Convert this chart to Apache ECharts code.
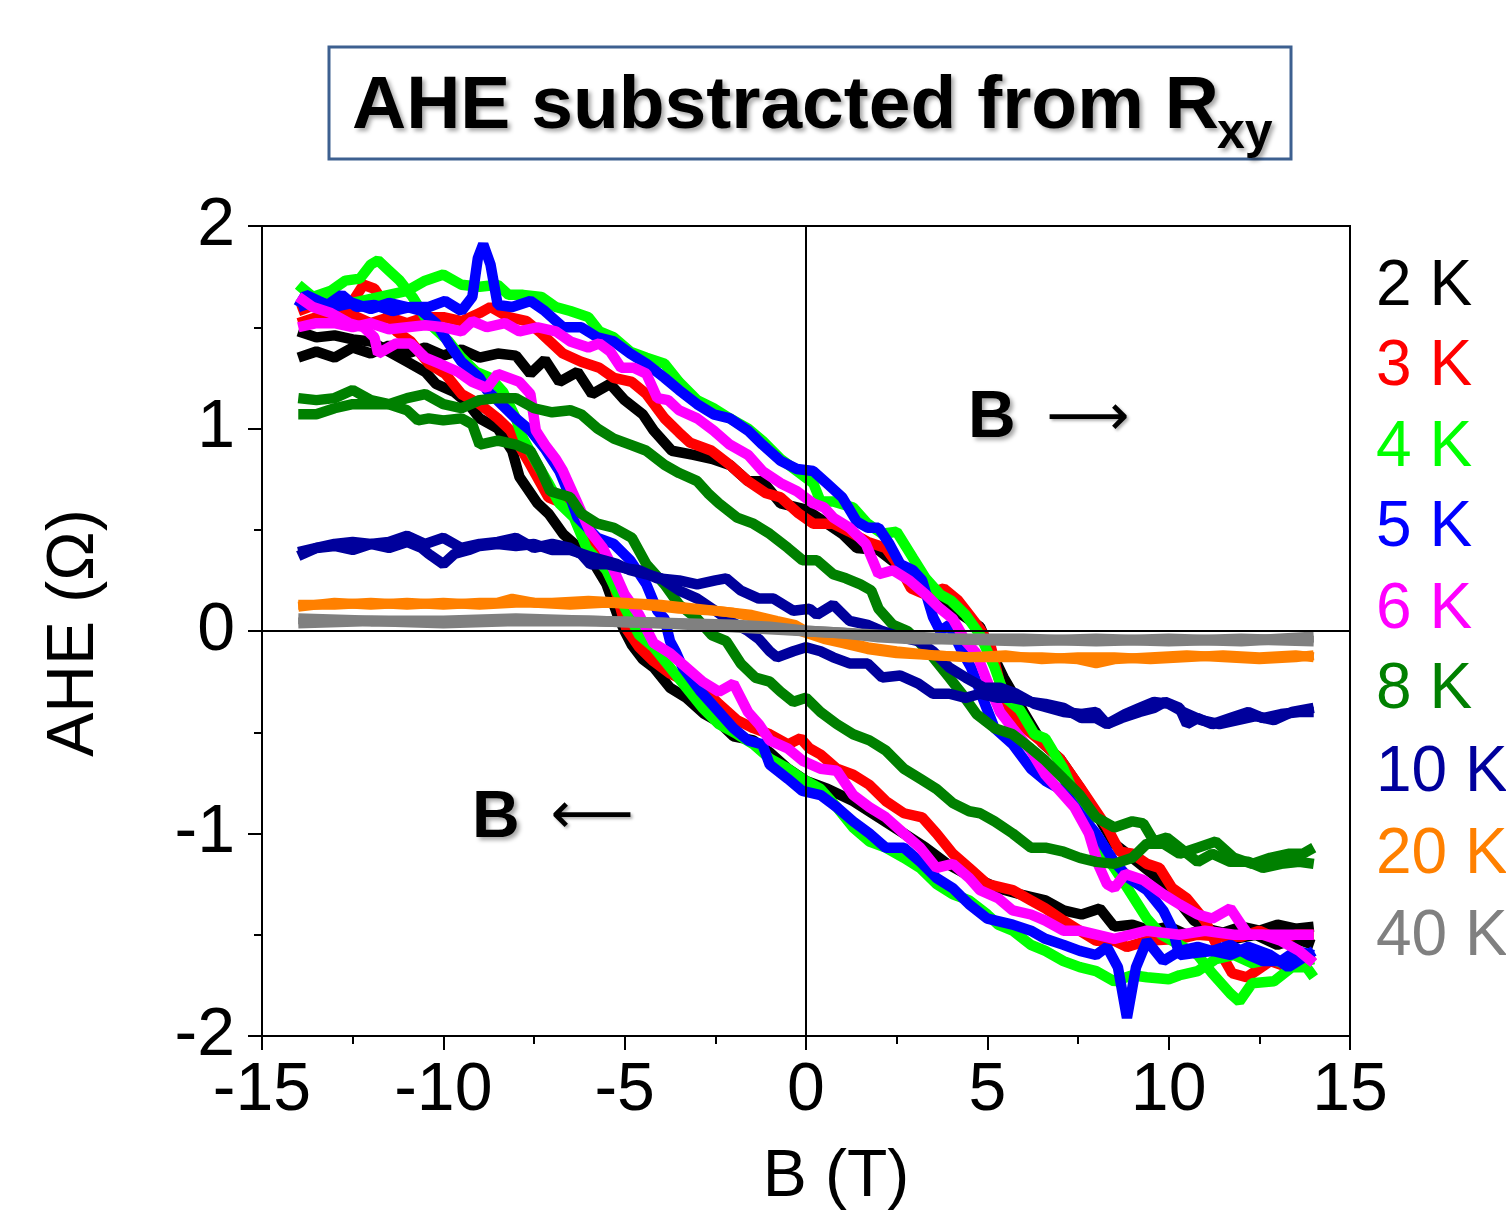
<!DOCTYPE html>
<html>
<head>
<meta charset="utf-8">
<script src="https://cdn.jsdelivr.net/npm/echarts@6.0.0/dist/echarts.min.js"></script>
<style>
html,body{margin:0;padding:0;background:#fff;}
#chart{width:1506px;height:1215px;}
</style>
</head>
<body>
<div id="chart"></div>
<script>
// ---- Data (B in T, AHE in Ohm) ----
var temps = ['2 K','3 K','4 K','5 K','6 K','8 K','10 K','20 K','40 K'];
var colors = ['#000000','#ff0000','#00ff00','#0000ff','#ff00ff','#008000','#00009c','#ff8000','#808080'];
var lineWidths = [10.5,10.5,10.5,10.5,10.5,10.5,10.5,10,11];
var xTicks = [-15,-10,-5,0,5,10,15];
var yTicks = [-2,-1,0,1,2];

var k2Up = [[-14,1.35],[-13.5,1.38],[-13,1.35],[-12.5,1.40],[-12,1.37],[-11.5,1.41],[-11,1.37],[-10.5,1.40],[-10,1.36],[-9.5,1.39],[-9,1.35],[-8.5,1.37],[-8,1.36],[-7.6,1.27],[-7.2,1.34],[-6.8,1.23],[-6.3,1.28],[-5.9,1.17],[-5.4,1.22],[-5,1.14],[-4.5,1.07],[-4.2,0.99],[-3.7,0.89],[-3.1,0.87],[-2.6,0.85],[-2.1,0.82],[-1.6,0.74],[-1.2,0.74],[-0.7,0.63],[0,0.60],[0.5,0.54],[1,0.48],[1.4,0.41],[2,0.40],[2.5,0.33],[3,0.27],[3.7,0.15],[4.3,0.08],[4.8,0.02],[5.1,-0.10],[5.45,-0.23],[6,-0.40],[6.5,-0.55],[7,-0.63],[7.5,-0.76],[8,-0.90],[8.5,-1.05],[9,-1.12],[9.7,-1.22],[10.2,-1.32],[10.7,-1.43],[11.2,-1.48],[11.8,-1.52],[12.4,-1.50],[13,-1.55],[13.5,-1.52],[14,-1.55]];
var k2Dn = [[-14,1.48],[-13.5,1.45],[-13,1.46],[-12.5,1.44],[-12,1.43],[-11.5,1.38],[-11,1.33],[-10.5,1.28],[-10.2,1.22],[-9.7,1.18],[-9.3,1.12],[-9,1.05],[-8.5,1.00],[-8.1,0.89],[-7.9,0.76],[-7.4,0.63],[-7.1,0.58],[-6.7,0.48],[-6.2,0.40],[-5.8,0.32],[-5.5,0.23],[-5.2,0.08],[-5.0,0.0],[-4.8,-0.07],[-4.5,-0.14],[-4.2,-0.18],[-3.75,-0.28],[-3.3,-0.33],[-2.8,-0.41],[-2.4,-0.45],[-2,-0.52],[-1.45,-0.54],[-1,-0.60],[-0.5,-0.68],[0,-0.74],[0.6,-0.78],[1.3,-0.84],[2,-0.92],[2.7,-1.0],[3.3,-1.07],[3.9,-1.15],[4.4,-1.20],[4.8,-1.23],[5.3,-1.27],[5.9,-1.30],[6.6,-1.33],[7.1,-1.38],[7.6,-1.40],[8.1,-1.37],[8.5,-1.46],[9,-1.45],[9.5,-1.48],[10,-1.46],[10.5,-1.50],[11,-1.47],[11.5,-1.49],[12,-1.46],[12.5,-1.48],[13,-1.45],[13.5,-1.47],[14,-1.46]];

var k3Up = [[-14,1.52],[-13.5,1.55],[-13,1.53],[-12.5,1.56],[-12,1.52],[-11.5,1.55],[-11,1.52],[-10.5,1.55],[-10,1.55],[-9.5,1.53],[-9,1.57],[-8.7,1.60],[-8.2,1.55],[-7.7,1.53],[-7.3,1.47],[-6.7,1.37],[-6.2,1.33],[-5.7,1.30],[-5.3,1.25],[-4.8,1.23],[-4.4,1.17],[-3.9,1.05],[-3.5,0.98],[-3.2,0.93],[-2.6,0.89],[-2.1,0.82],[-1.6,0.74],[-1.1,0.68],[-0.7,0.66],[-0.2,0.58],[0.2,0.53],[0.75,0.53],[1.2,0.49],[1.7,0.44],[2.2,0.41],[2.6,0.31],[2.9,0.21],[3.3,0.18],[3.8,0.21],[4.2,0.15],[4.5,0.08],[4.8,0.01],[5.1,-0.08],[5.35,-0.26],[5.7,-0.43],[6.45,-0.54],[7.0,-0.63],[7.55,-0.77],[8.3,-0.97],[8.65,-1.09],[9.0,-1.10],[9.4,-1.15],[9.75,-1.17],[10.1,-1.27],[10.5,-1.32],[11,-1.43],[11.4,-1.58],[11.75,-1.69],[12.15,-1.71],[12.4,-1.68],[12.8,-1.63],[13.3,-1.66],[13.6,-1.65],[14,-1.60]];
var k3Dn = [[-14,1.58],[-13.7,1.60],[-13.4,1.66],[-13,1.58],[-12.6,1.60],[-12.2,1.71],[-11.9,1.69],[-11.6,1.61],[-11.3,1.48],[-10.9,1.43],[-10.4,1.32],[-9.95,1.27],[-9.5,1.17],[-9,1.12],[-8.5,1.05],[-8.15,0.99],[-7.6,0.82],[-7.1,0.66],[-6.7,0.63],[-6.2,0.53],[-5.75,0.39],[-5.3,0.23],[-4.95,0.01],[-4.6,-0.08],[-4.2,-0.15],[-3.75,-0.21],[-3.3,-0.25],[-2.85,-0.28],[-2.4,-0.36],[-1.9,-0.44],[-1.45,-0.48],[-1.0,-0.51],[-0.5,-0.56],[-0.15,-0.53],[0.1,-0.58],[0.4,-0.61],[0.85,-0.68],[1.3,-0.71],[1.75,-0.76],[2.2,-0.84],[2.7,-0.90],[3.2,-0.92],[3.6,-1.0],[4.05,-1.10],[4.5,-1.17],[5.0,-1.25],[5.7,-1.28],[6.2,-1.33],[6.6,-1.37],[7.1,-1.43],[7.55,-1.48],[8.0,-1.53],[8.5,-1.53],[8.85,-1.56],[9.4,-1.53],[10.3,-1.52],[10.8,-1.50],[11.5,-1.51],[12,-1.51],[12.5,-1.48],[13,-1.52],[13.5,-1.50],[14,-1.50]];

var k4Up = [[-14,1.63],[-13.5,1.60],[-13,1.64],[-12.5,1.62],[-12,1.64],[-11.5,1.66],[-11,1.68],[-10.5,1.73],[-10,1.76],[-9.5,1.71],[-9,1.70],[-8.5,1.71],[-8.2,1.66],[-7.8,1.66],[-7.3,1.65],[-6.9,1.60],[-6.5,1.58],[-6,1.55],[-5.7,1.48],[-5.3,1.45],[-4.85,1.38],[-4.4,1.35],[-3.9,1.32],[-3.5,1.23],[-3.0,1.14],[-2.55,1.10],[-2.1,1.05],[-1.6,1.0],[-1.2,0.94],[-0.7,0.85],[-0.25,0.79],[0.2,0.73],[0.4,0.64],[0.75,0.64],[1.3,0.61],[1.7,0.53],[2.1,0.48],[2.5,0.49],[2.95,0.36],[3.3,0.26],[3.7,0.18],[4.0,0.15],[4.4,0.08],[4.8,-0.02],[5.2,-0.18],[5.5,-0.33],[5.9,-0.39],[6.3,-0.51],[6.6,-0.53],[7.1,-0.68],[7.55,-0.87],[8.0,-1.04],[8.5,-1.17],[8.9,-1.28],[9.4,-1.42],[9.8,-1.50],[10.3,-1.55],[10.8,-1.60],[11.2,-1.69],[11.7,-1.79],[11.95,-1.83],[12.3,-1.74],[12.9,-1.73],[13.4,-1.66],[13.8,-1.66],[14,-1.71]];
var k4Dn = [[-14,1.71],[-13.6,1.65],[-13.1,1.68],[-12.7,1.73],[-12.3,1.74],[-12,1.81],[-11.8,1.83],[-11.5,1.78],[-11.2,1.73],[-10.85,1.65],[-10.4,1.52],[-9.85,1.43],[-9.5,1.35],[-9.1,1.28],[-8.7,1.25],[-8.35,1.18],[-8.0,1.05],[-7.8,0.95],[-7.4,0.82],[-7.1,0.73],[-6.8,0.63],[-6.4,0.56],[-6.05,0.41],[-5.5,0.30],[-5.1,0.15],[-4.6,-0.02],[-4.2,-0.08],[-3.75,-0.18],[-3.3,-0.28],[-2.85,-0.38],[-2.4,-0.46],[-1.9,-0.51],[-1.45,-0.56],[-1.0,-0.63],[-0.5,-0.68],[-0.1,-0.73],[0.4,-0.78],[0.85,-0.87],[1.3,-0.97],[1.75,-1.04],[2.2,-1.07],[2.7,-1.12],[3.15,-1.17],[3.6,-1.25],[4.05,-1.30],[4.5,-1.33],[5.0,-1.40],[5.3,-1.45],[5.7,-1.48],[6.2,-1.55],[6.6,-1.58],[7.1,-1.63],[7.55,-1.66],[8.0,-1.68],[8.5,-1.73],[9.0,-1.70],[9.4,-1.71],[10,-1.72],[10.3,-1.70],[10.8,-1.68],[11.3,-1.62],[11.8,-1.60],[12.3,-1.64],[12.8,-1.62],[13.3,-1.65],[14,-1.62]];

var k5Up = [[-14,1.60],[-13.8,1.66],[-13.2,1.61],[-12.8,1.66],[-12.4,1.60],[-11.9,1.61],[-11.4,1.58],[-10.9,1.60],[-10.4,1.60],[-9.95,1.63],[-9.5,1.58],[-9.2,1.65],[-9.05,1.84],[-8.9,1.91],[-8.7,1.81],[-8.5,1.61],[-8.1,1.60],[-7.6,1.63],[-7.2,1.58],[-6.7,1.50],[-6.2,1.50],[-5.75,1.45],[-5.3,1.43],[-4.85,1.37],[-4.4,1.32],[-3.9,1.25],[-3.5,1.19],[-3.0,1.12],[-2.55,1.07],[-2.1,1.05],[-1.6,0.99],[-1.2,0.92],[-0.7,0.84],[-0.25,0.80],[0.2,0.79],[0.57,0.73],[1.0,0.66],[1.4,0.54],[1.7,0.51],[2.0,0.51],[2.3,0.43],[2.6,0.33],[2.95,0.30],[3.2,0.25],[3.5,0.07],[3.7,0.0],[3.95,0.03],[4.3,-0.10],[4.55,-0.18],[4.8,-0.30],[5.2,-0.48],[5.7,-0.56],[6.2,-0.68],[6.6,-0.74],[7.1,-0.79],[7.55,-0.90],[8.0,-1.0],[8.5,-1.14],[8.9,-1.22],[9.4,-1.28],[9.85,-1.38],[10.1,-1.47],[10.3,-1.60],[10.7,-1.59],[11.2,-1.58],[11.7,-1.55],[12.2,-1.60],[12.6,-1.63],[13.1,-1.63],[13.5,-1.58],[14,-1.60]];
var k5Dn = [[-14,1.60],[-13.5,1.63],[-13,1.60],[-12.5,1.62],[-12,1.59],[-11.5,1.62],[-11,1.60],[-10.6,1.58],[-10.2,1.52],[-9.85,1.42],[-9.5,1.33],[-9,1.25],[-8.8,1.19],[-8.4,1.12],[-8,1.05],[-7.6,0.99],[-7.2,0.90],[-6.8,0.79],[-6.5,0.66],[-6.3,0.56],[-5.75,0.46],[-5.3,0.43],[-4.85,0.35],[-4.4,0.23],[-4.1,0.10],[-3.9,0.06],[-3.75,-0.05],[-3.6,-0.10],[-3.4,-0.18],[-2.9,-0.30],[-2.4,-0.40],[-2.0,-0.48],[-1.6,-0.54],[-1.2,-0.56],[-1.0,-0.66],[-0.5,-0.73],[-0.1,-0.79],[0.4,-0.81],[0.85,-0.87],[1.3,-0.94],[1.75,-1.0],[2.2,-1.07],[2.7,-1.07],[3.15,-1.14],[3.6,-1.22],[4.05,-1.27],[4.5,-1.35],[5.0,-1.42],[5.7,-1.45],[6.2,-1.48],[6.6,-1.52],[7.1,-1.55],[7.55,-1.58],[8.0,-1.60],[8.3,-1.56],[8.6,-1.66],[8.85,-1.91],[9.1,-1.66],[9.4,-1.53],[9.85,-1.63],[10.3,-1.58],[10.8,-1.56],[11.2,-1.58],[11.7,-1.60],[12.2,-1.56],[12.8,-1.60],[13.3,-1.66],[14,-1.58]];

var k6Up = [[-14,1.50],[-13.5,1.52],[-13,1.52],[-12.5,1.50],[-12,1.52],[-11.5,1.49],[-11,1.50],[-10.5,1.51],[-10,1.50],[-9.5,1.48],[-9.2,1.53],[-8.8,1.50],[-8.3,1.52],[-7.9,1.48],[-7.4,1.50],[-6.9,1.48],[-6.5,1.43],[-6,1.40],[-5.7,1.42],[-5.4,1.38],[-5.1,1.30],[-4.75,1.30],[-4.4,1.27],[-4.1,1.15],[-3.8,1.14],[-3.5,1.09],[-3.0,1.05],[-2.55,0.99],[-2.1,0.92],[-1.6,0.87],[-1.2,0.79],[-0.7,0.73],[-0.25,0.69],[0.2,0.63],[0.5,0.61],[0.75,0.56],[1.2,0.51],[1.65,0.43],[2.0,0.28],[2.4,0.30],[2.85,0.25],[3.3,0.18],[3.7,0.11],[4.05,0.06],[4.4,-0.05],[4.7,-0.11],[5.0,-0.25],[5.35,-0.40],[5.7,-0.48],[6.2,-0.59],[6.6,-0.71],[7.1,-0.81],[7.4,-0.87],[7.8,-1.0],[8.05,-1.15],[8.3,-1.25],[8.5,-1.27],[8.8,-1.20],[9.3,-1.23],[9.85,-1.30],[10.3,-1.35],[10.8,-1.40],[11.2,-1.42],[11.7,-1.37],[12.0,-1.45],[12.2,-1.50],[12.6,-1.50],[13.1,-1.53],[13.6,-1.58],[14,-1.64]];
var k6Dn = [[-14,1.65],[-13.6,1.60],[-13.1,1.57],[-12.6,1.52],[-12.2,1.50],[-11.9,1.45],[-11.8,1.37],[-11.3,1.42],[-10.9,1.42],[-10.5,1.35],[-10.1,1.32],[-9.6,1.28],[-9.2,1.23],[-8.8,1.20],[-8.5,1.27],[-8.2,1.25],[-7.9,1.23],[-7.6,1.17],[-7.45,0.99],[-7.2,0.92],[-6.9,0.85],[-6.7,0.79],[-6.3,0.63],[-5.95,0.49],[-5.6,0.41],[-5.3,0.30],[-5.0,0.18],[-4.6,0.08],[-4.2,-0.06],[-3.75,-0.11],[-3.3,-0.18],[-2.85,-0.25],[-2.4,-0.30],[-2.0,-0.26],[-1.6,-0.40],[-1.3,-0.46],[-1.0,-0.54],[-0.5,-0.58],[-0.1,-0.64],[0.4,-0.68],[0.85,-0.69],[1.3,-0.81],[1.75,-0.87],[2.2,-0.92],[2.7,-1.0],[3.15,-1.07],[3.6,-1.17],[4.05,-1.15],[4.5,-1.22],[4.8,-1.28],[5.3,-1.32],[5.7,-1.38],[6.2,-1.40],[6.6,-1.43],[7.1,-1.48],[7.55,-1.48],[8.5,-1.52],[9.4,-1.48],[10.3,-1.50],[11,-1.48],[11.8,-1.50],[12.5,-1.50],[13.2,-1.50],[14,-1.50]];

var k8Up = [[-14,1.15],[-13.5,1.14],[-13,1.15],[-12.5,1.19],[-12,1.14],[-11.5,1.12],[-11,1.15],[-10.5,1.17],[-10,1.12],[-9.5,1.10],[-9,1.14],[-8.5,1.15],[-8,1.15],[-7.5,1.10],[-7,1.08],[-6.5,1.09],[-6.2,1.07],[-5.75,1.0],[-5.3,0.95],[-4.85,0.92],[-4.4,0.89],[-3.9,0.82],[-3.5,0.78],[-3.0,0.74],[-2.7,0.68],[-2.4,0.63],[-1.9,0.56],[-1.45,0.53],[-1.0,0.48],[-0.5,0.41],[-0.1,0.35],[0.3,0.35],[0.75,0.28],[1.1,0.26],[1.5,0.23],[1.8,0.20],[2.0,0.11],[2.4,0.03],[2.8,0.0],[3.15,-0.06],[3.5,-0.13],[3.95,-0.23],[4.3,-0.31],[4.7,-0.41],[5.2,-0.48],[5.7,-0.51],[6.2,-0.58],[6.6,-0.64],[7.1,-0.73],[7.55,-0.81],[8.0,-0.92],[8.5,-0.97],[9.0,-0.94],[9.3,-0.95],[9.6,-1.04],[9.95,-1.02],[10.3,-1.07],[10.8,-1.14],[11.2,-1.10],[11.7,-1.14],[12.2,-1.14],[12.6,-1.17],[13.1,-1.15],[13.6,-1.14],[14,-1.15]];
var k8Dn = [[-14,1.07],[-13.5,1.07],[-13,1.10],[-12.5,1.12],[-12,1.12],[-11.5,1.12],[-11,1.09],[-10.7,1.04],[-10.4,1.05],[-10,1.04],[-9.5,1.05],[-9.2,1.02],[-9,0.92],[-8.5,0.94],[-8,0.92],[-7.6,0.89],[-7.3,0.79],[-7.05,0.69],[-6.5,0.66],[-6.2,0.58],[-5.75,0.53],[-5.3,0.51],[-4.8,0.46],[-4.4,0.33],[-3.9,0.23],[-3.5,0.13],[-3.0,0.06],[-2.6,-0.02],[-2.2,-0.05],[-1.8,-0.16],[-1.4,-0.23],[-1.0,-0.25],[-0.7,-0.30],[-0.35,-0.35],[0.0,-0.33],[0.4,-0.40],[0.85,-0.46],[1.3,-0.51],[1.75,-0.54],[2.2,-0.59],[2.7,-0.68],[3.15,-0.73],[3.6,-0.78],[4.05,-0.85],[4.5,-0.89],[4.8,-0.90],[5.2,-0.94],[5.7,-1.0],[6.2,-1.07],[6.6,-1.07],[7.1,-1.09],[7.55,-1.12],[8.0,-1.14],[8.5,-1.15],[9.0,-1.12],[9.4,-1.05],[9.85,-1.05],[10.3,-1.10],[10.8,-1.07],[11.3,-1.04],[11.8,-1.12],[12.3,-1.15],[12.8,-1.12],[13.3,-1.10],[13.7,-1.10],[14,-1.07]];

var k10Up = [[-14,0.39],[-13.5,0.41],[-13,0.43],[-12.5,0.44],[-12,0.43],[-11.5,0.44],[-11,0.47],[-10.5,0.43],[-10,0.46],[-9.5,0.41],[-9,0.43],[-8.5,0.44],[-8,0.46],[-7.5,0.41],[-7,0.43],[-6.5,0.41],[-6.2,0.38],[-5.95,0.33],[-5.5,0.33],[-5,0.31],[-4.6,0.30],[-4.1,0.26],[-3.5,0.25],[-3.0,0.23],[-2.5,0.25],[-2.2,0.26],[-1.8,0.20],[-1.3,0.16],[-0.9,0.16],[-0.35,0.10],[0.1,0.11],[0.3,0.08],[0.75,0.13],[1.2,0.05],[1.7,0.03],[2.1,0.0],[2.6,-0.03],[3.1,-0.05],[3.5,-0.10],[3.95,-0.18],[4.4,-0.23],[4.9,-0.28],[5.35,-0.28],[5.8,-0.31],[6.3,-0.36],[6.7,-0.38],[7.1,-0.40],[7.6,-0.41],[8.0,-0.40],[8.3,-0.46],[8.7,-0.43],[9.2,-0.40],[9.6,-0.38],[9.9,-0.35],[10.3,-0.38],[10.5,-0.46],[10.8,-0.43],[11.2,-0.46],[11.7,-0.43],[12.2,-0.40],[12.6,-0.43],[13.1,-0.41],[13.6,-0.40],[14,-0.40]];
var k10Dn = [[-14,0.37],[-13.5,0.41],[-13,0.42],[-12.5,0.40],[-12,0.43],[-11.5,0.41],[-11,0.44],[-10.6,0.41],[-10.4,0.38],[-10,0.33],[-9.7,0.38],[-9.3,0.40],[-9,0.42],[-8.5,0.43],[-8,0.42],[-7.5,0.43],[-7,0.40],[-6.5,0.40],[-6,0.37],[-5.6,0.35],[-5.2,0.33],[-4.85,0.30],[-4.4,0.28],[-4,0.26],[-3.5,0.20],[-3.0,0.16],[-2.5,0.10],[-2.1,0.05],[-1.6,0.0],[-1.3,-0.04],[-1.0,-0.10],[-0.8,-0.13],[-0.35,-0.10],[0,-0.08],[0.4,-0.10],[0.75,-0.13],[1.2,-0.16],[1.7,-0.16],[2.1,-0.23],[2.6,-0.22],[3.1,-0.26],[3.5,-0.31],[3.95,-0.31],[4.4,-0.33],[4.8,-0.31],[5.3,-0.33],[5.7,-0.33],[6.2,-0.35],[6.6,-0.36],[7.1,-0.38],[7.6,-0.43],[8.0,-0.43],[8.3,-0.46],[8.8,-0.41],[9.2,-0.38],[9.6,-0.35],[10.0,-0.36],[10.4,-0.40],[10.9,-0.44],[11.4,-0.46],[11.9,-0.44],[12.4,-0.42],[12.9,-0.44],[13.4,-0.40],[14,-0.38]];

var k20Up = [[-14,0.12],[-13,0.14],[-12,0.13],[-11,0.14],[-10,0.13],[-9,0.14],[-8.5,0.14],[-8.1,0.16],[-7.5,0.14],[-6.5,0.13],[-5.5,0.14],[-4.5,0.13],[-3.5,0.11],[-2.5,0.10],[-1.5,0.08],[-0.8,0.05],[-0.3,0.03],[0,0.0],[0.5,-0.03],[1,-0.05],[1.7,-0.08],[2.5,-0.10],[3.5,-0.12],[4.5,-0.13],[5.5,-0.13],[6.5,-0.13],[7.5,-0.14],[8,-0.16],[8.5,-0.14],[9.5,-0.13],[10.5,-0.12],[11.5,-0.13],[12.5,-0.14],[13.5,-0.13],[14,-0.12]];
var k20Dn = [[-14,0.13],[-13,0.13],[-12,0.14],[-11,0.13],[-10,0.14],[-9,0.13],[-8,0.14],[-7,0.14],[-6,0.15],[-5,0.14],[-4,0.13],[-3,0.11],[-2,0.09],[-1.2,0.06],[-0.5,0.02],[0,-0.01],[0.5,-0.04],[1,-0.06],[1.7,-0.09],[2.5,-0.11],[3.5,-0.12],[4.5,-0.13],[5.5,-0.12],[6.5,-0.14],[7.5,-0.13],[8.5,-0.13],[9.5,-0.14],[10.5,-0.13],[11.5,-0.12],[12.5,-0.13],[13.5,-0.12],[14,-0.13]];

var k40Up = [[-14,0.06],[-12,0.05],[-10,0.05],[-8,0.06],[-6,0.05],[-4,0.04],[-2,0.03],[-1,0.02],[0,0.0],[1,-0.01],[2,-0.02],[3,-0.03],[4,-0.04],[6,-0.04],[8,-0.05],[10,-0.04],[12,-0.05],[14,-0.03]];
var k40Dn = [[-14,0.04],[-12,0.05],[-10,0.04],[-8,0.05],[-6,0.05],[-4,0.04],[-2,0.02],[-1,0.01],[0,0.0],[1,-0.01],[2,-0.03],[3,-0.04],[4,-0.04],[6,-0.05],[8,-0.04],[10,-0.05],[12,-0.04],[14,-0.05]];

var branches = [[k2Up,k2Dn],[k3Up,k3Dn],[k4Up,k4Dn],[k5Up,k5Dn],[k6Up,k6Dn],[k8Up,k8Dn],[k10Up,k10Dn],[k20Up,k20Dn],[k40Up,k40Dn]];

// ---- Chart ----
var FONT = '"Liberation Sans", Arial, Helvetica, sans-serif';
var chart = echarts.init(document.getElementById('chart'), null, {renderer: 'canvas'});

var series = [{
  type: 'line', name: 'zero', data: [[0,0]], showSymbol: false, z: 1, silent: true,
  lineStyle: {width: 0},
  markLine: {
    silent: true, symbol: ['none','none'], label: {show: false},
    lineStyle: {color: '#000', width: 2, type: 'solid'},
    data: [{xAxis: 0}, {yAxis: 0}]
  }
}];
temps.forEach(function (t, i) {
  branches[i].forEach(function (br) {
    series.push({
      type: 'line', name: t, data: br, showSymbol: false, smooth: false, z: 2,
      lineStyle: {color: colors[i], width: lineWidths[i]},
      itemStyle: {color: colors[i]},
      emphasis: {disabled: true}
    });
  });
});

var graphics = [
  {type: 'rect', shape: {x: 329, y: 47, width: 962, height: 112},
   style: {fill: '#fff', stroke: '#3d6090', lineWidth: 3}},
  {type: 'text', x: 352, y: 107,
   style: {text: 'AHE substracted from R', font: 'bold 75px ' + FONT, fill: '#000',
     textAlign: 'left', textVerticalAlign: 'middle',
     textShadowColor: 'rgba(0,0,0,0.35)', textShadowBlur: 4, textShadowOffsetX: 3, textShadowOffsetY: 3}},
  {type: 'text', x: 1217, y: 134,
   style: {text: 'xy', font: 'bold 50px ' + FONT, fill: '#000',
     textAlign: 'left', textVerticalAlign: 'middle',
     textShadowColor: 'rgba(0,0,0,0.35)', textShadowBlur: 4, textShadowOffsetX: 3, textShadowOffsetY: 3}},
  {type: 'text', x: 968, y: 419,
   style: {text: 'B', font: 'bold 66px ' + FONT, fill: '#000', textAlign: 'left', textVerticalAlign: 'middle',
     textShadowColor: 'rgba(0,0,0,0.35)', textShadowBlur: 4, textShadowOffsetX: 3, textShadowOffsetY: 3}},
  {type: 'text', x: 1088, y: 420,
   style: {text: '\u27F6', font: '58px "DejaVu Sans", sans-serif', fill: '#000', textAlign: 'center', textVerticalAlign: 'middle',
     textShadowColor: 'rgba(0,0,0,0.3)', textShadowBlur: 3, textShadowOffsetX: 2, textShadowOffsetY: 2}},
  {type: 'text', x: 472, y: 819,
   style: {text: 'B', font: 'bold 66px ' + FONT, fill: '#000', textAlign: 'left', textVerticalAlign: 'middle',
     textShadowColor: 'rgba(0,0,0,0.35)', textShadowBlur: 4, textShadowOffsetX: 3, textShadowOffsetY: 3}},
  {type: 'text', x: 592, y: 818,
   style: {text: '\u27F5', font: '58px "DejaVu Sans", sans-serif', fill: '#000', textAlign: 'center', textVerticalAlign: 'middle',
     textShadowColor: 'rgba(0,0,0,0.3)', textShadowBlur: 3, textShadowOffsetX: 2, textShadowOffsetY: 2}},
  {type: 'text', x: 836, y: 1178,
   style: {text: 'B (T)', font: '66px ' + FONT, fill: '#000', textAlign: 'center', textVerticalAlign: 'middle'}},
  {type: 'text', x: 75, y: 633, rotation: Math.PI / 2,
   style: {text: 'AHE (\u03A9)', font: '66px ' + FONT, fill: '#000', textAlign: 'center', textVerticalAlign: 'middle'}}
];
var legendY = [287, 367, 448, 528, 610, 690, 773, 855, 937];
temps.forEach(function (t, i) {
  graphics.push({type: 'text', x: 1376, y: legendY[i],
    style: {text: t, font: '64px ' + FONT, fill: colors[i], textAlign: 'left', textVerticalAlign: 'middle'}});
});

chart.setOption({
  backgroundColor: '#fff',
  animation: false,
  grid: {left: 262, top: 226, width: 1088, height: 810, show: true, borderColor: '#000', borderWidth: 2, backgroundColor: 'transparent'},
  xAxis: {
    type: 'value', min: xTicks[0], max: xTicks[xTicks.length - 1], interval: 5,
    axisLine: {show: true, onZero: false, lineStyle: {color: '#000', width: 2}},
    axisTick: {show: true, inside: false, length: 14, lineStyle: {color: '#000', width: 2}},
    minorTick: {show: true, splitNumber: 2, length: 8, lineStyle: {color: '#000', width: 2}},
    splitLine: {show: false},
    axisLabel: {fontSize: 68, fontFamily: FONT, color: '#000', margin: 21}
  },
  yAxis: {
    type: 'value', min: yTicks[0], max: yTicks[yTicks.length - 1], interval: 1,
    axisLine: {show: true, onZero: false, lineStyle: {color: '#000', width: 2}},
    axisTick: {show: true, inside: false, length: 14, lineStyle: {color: '#000', width: 2}},
    minorTick: {show: true, splitNumber: 2, length: 8, lineStyle: {color: '#000', width: 2}},
    splitLine: {show: false},
    axisLabel: {fontSize: 68, fontFamily: FONT, color: '#000', margin: 27}
  },
  graphic: graphics,
  series: series
});
</script>
</body>
</html>
